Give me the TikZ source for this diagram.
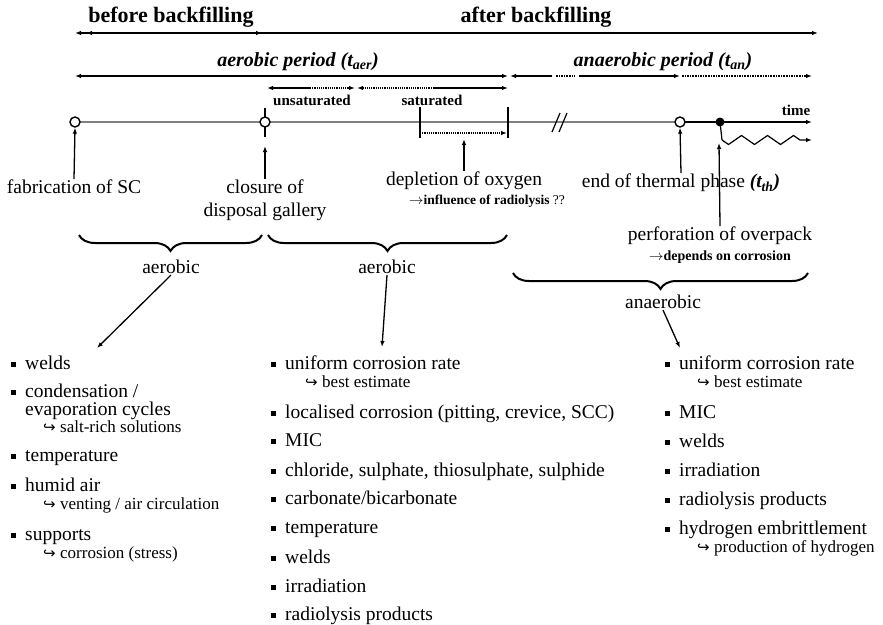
\documentclass[tikz,border=0pt]{standalone}
\usepackage{fontspec}
\setmainfont{Liberation Serif}
\newfontfamily\symfont{DejaVu Sans}
\usepackage{amssymb}
\usetikzlibrary{arrows.meta, decorations.pathreplacing, decorations.pathmorphing, positioning}
\newcommand{\itembul}{\makebox[14pt][l]{\rule[2.5pt]{4.5pt}{4.5pt}}}
\newcommand{\subhook}{\makebox[17pt][l]{\fontsize{15}{15}\symfont ↪}}
\newcommand{\smallbf}{\fontsize{14}{16}\selectfont\bfseries}

\begin{document}
\begin{tikzpicture}[x=1pt, y=-1pt, >={Latex[length=6pt,width=4.5pt]},
    head/.style = {font=\fontsize{22}{24}\selectfont\bfseries, inner sep=1pt},
    period/.style = {font=\fontsize{20}{22}\selectfont\bfseries\itshape, inner sep=1pt},
    tag/.style = {font=\fontsize{15}{17}\selectfont\bfseries, inner sep=1pt},
    note/.style = {font=\fontsize{13.5}{15}\selectfont\bfseries, inner sep=1pt},
    lbl/.style = {font=\fontsize{19.5}{23}\selectfont, inner sep=1pt, align=center},
    item/.style = {anchor=west, inner sep=0pt, font=\fontsize{19.5}{22}\selectfont, text height=13pt, text depth=1pt},
    subitem/.style = {item, font=\fontsize{17}{19}\selectfont, text height=11.5pt},
    evopen/.style = {circle, draw, line width=1.4pt, fill=white, inner sep=0pt, minimum size=10pt},
    evfull/.style = {circle, fill, inner sep=0pt, minimum size=9pt},
    curly/.style = {decorate, decoration={brace, amplitude=16pt, mirror}, line width=2pt},
    link/.style = {->, line width=1.3pt}]
    % Riquadro
    \useasboundingbox (0,0) rectangle (883,624);
    % Backfilling
    \node[head] (before) at (171,17) {before backfilling};
    \node[head] (after) at (536,17) {after backfilling};
    \draw[<->, line width=1.1pt] (75,33) -- (818,33);
    \draw[<->, line width=1.1pt] (86,33) -- (262,33);
    % Periodi
    \node[period] (aerp) at (298,62) {aerobic period (t\textsubscript{aer})};
    \node[period] (anp) at (663,62) {anaerobic period (t\textsubscript{an})};
    \draw[<->, line width=1.6pt] (75,76) -- (508,76);
    \draw[<-, line width=1.6pt] (510,76) -- (552,76);
    \draw[densely dotted, line width=1.6pt] (556,76) -- (575,76);
    \draw[->, line width=1.6pt] (579,76) -- (680,76);
    \draw[->, densely dotted, line width=1.6pt] (682,76) -- (812,76);
    % Saturazione
    \draw[<-, line width=1.2pt] (267,88) -- (310,88);
    \draw[->, densely dotted, line width=1.2pt] (310,88) -- (355,88);
    \draw[<-, densely dotted, line width=1.2pt] (357,88) -- (433,88);
    \draw[->, line width=1.2pt] (433,88) -- (508,88);
    \node[tag] (unsat) at (312,100) {unsaturated};
    \node[tag] (sat) at (432,100) {saturated};
    % Asse dei tempi
    \draw[gray, line width=2.4pt] (75,122) -- (680,122);
    \draw[->, line width=1.4pt] (680,122) -- (812,122);
    \node[tag] (time) at (796,110) {time};
    \draw[line width=1.4pt] (265,108) -- (265,137);
    \draw[line width=1.4pt] (420,107) -- (420,138);
    \draw[line width=1.4pt] (508,107) -- (508,138);
    \draw[->, densely dotted, line width=1.2pt] (420,133) -- (507,133);
    \draw[line width=1.2pt] (552,132) -- (560,113) (559,132) -- (567,113);
    \node[evopen] (fabev) at (75,122) {};
    \node[evopen] (cloev) at (265,122) {};
    \node[evopen] (thev) at (680,122) {};
    \node[evfull] (perfev) at (720,122) {};
    \draw[line width=1.2pt] (perfev.center) -- (722,140);
    \draw[->, line width=1.2pt, decorate, decoration={zigzag, segment length=26pt, amplitude=4.5pt, post length=6pt, mirror}] (722,140) -- (812,140);
    % Eventi
    \node[lbl, anchor=north] (fab) at (74,179) {fabrication of SC};
    \draw[link] (fab.north) -- (fabev.south);
    \node[lbl, anchor=north] (clo) at (265,179) {closure of\\disposal gallery};
    \coordinate (clotip) at (265,146);
    \draw[link] (clo.north) -- (clotip);
    \node[lbl, anchor=north] (dep) at (464,171) {depletion of oxygen};
    \node[note] (depnote) at (487,201) {$\rightarrow$influence of radiolysis {\mdseries ??}};
    \coordinate (deptip) at (464,139);
    \draw[link] (dep.north) -- (deptip);
    \node[lbl, anchor=north] (eth) at (681,173) {end of thermal phase \textbf{\textit{(t\textsubscript{th})}}};
    \draw[link] (eth.north) -- (thev.south);
    \node[lbl, anchor=north] (perf) at (720,226) {perforation of overpack\\[-3pt]{\smallbf $\rightarrow$depends on corrosion}};
    \coordinate (perftip) at (719,143);
    \draw[link] (perf.north) -- (perftip);
    % Graffe
    \draw[curly] (79,235) -- (262,235);
    \node[lbl] (aer1) at (171,267) {aerobic};
    \draw[curly] (268,235) -- (507,235);
    \node[lbl] (aer2) at (387,267) {aerobic};
    \draw[curly] (513,273) -- (808,273);
    \node[lbl] (anaer) at (663,302) {anaerobic};
    % Frecce verso le liste
    \coordinate (ltip) at (97,348);
    \coordinate (mtip) at (382,347);
    \coordinate (rtip) at (680,348);
    \draw[link] (aer1.south) -- (ltip);
    \draw[link] (aer2.south) -- (mtip);
    \draw[link] (anaer.south) -- (rtip);
    % Lista prima del backfilling
    \node[item] (l1) at (11,363) {\itembul welds};
    \node[item] (l2) at (11,391) {\itembul condensation /};
    \node[item] (l2b) at (25,409) {evaporation cycles};
    \node[subitem] (l2s) at (43,427) {\subhook salt-rich solutions};
    \node[item] (l3) at (11,455) {\itembul temperature};
    \node[item] (l4) at (11,485) {\itembul humid air};
    \node[subitem] (l4s) at (43,504) {\subhook venting / air circulation};
    \node[item] (l5) at (11,534) {\itembul supports};
    \node[subitem] (l5s) at (43,553) {\subhook corrosion (stress)};
    % Lista aerobica
    \node[item] (m1) at (271,363) {\itembul uniform corrosion rate};
    \node[subitem] (m1s) at (305,382) {\subhook best estimate};
    \node[item] (m2) at (271,412) {\itembul localised corrosion (pitting, crevice, SCC)};
    \node[item] (m3) at (271,440) {\itembul MIC};
    \node[item] (m4) at (271,470) {\itembul chloride, sulphate, thiosulphate, sulphide};
    \node[item] (m5) at (271,498) {\itembul carbonate/bicarbonate};
    \node[item] (m6) at (271,527) {\itembul temperature};
    \node[item] (m7) at (271,557) {\itembul welds};
    \node[item] (m8) at (271,586) {\itembul irradiation};
    \node[item] (m9) at (271,614) {\itembul radiolysis products};
    % Lista anaerobica
    \node[item] (r1) at (665,363) {\itembul uniform corrosion rate};
    \node[subitem] (r1s) at (697,382) {\subhook best estimate};
    \node[item] (r2) at (665,412) {\itembul MIC};
    \node[item] (r3) at (665,441) {\itembul welds};
    \node[item] (r4) at (665,470) {\itembul irradiation};
    \node[item] (r5) at (665,499) {\itembul radiolysis products};
    \node[item] (r6) at (665,528) {\itembul hydrogen embrittlement};
    \node[subitem] (r6s) at (697,547) {\subhook production of hydrogen};
\end{tikzpicture}
\end{document}
